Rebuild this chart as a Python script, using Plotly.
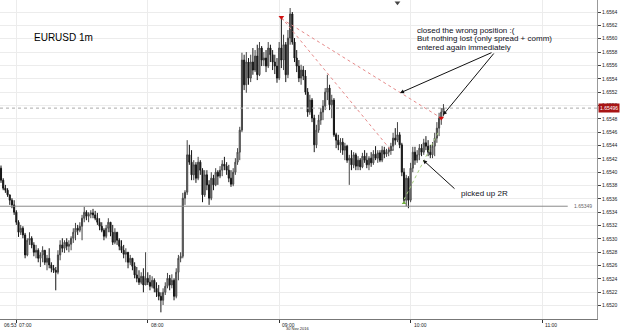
import plotly.graph_objects as go
import pandas as pd

# ---------------- data (EURUSD 1m, 30 Nov 2016) ----------------
start_time = "2016-11-30 06:53"

open_ = [1.65406,1.65388,1.65376,1.65373,1.65366,1.65358,1.65351,1.65340,1.65325,1.65310,
1.65316,1.65306,1.65276,1.65298,1.65301,1.65291,1.65280,1.65283,1.65271,1.65276,
1.65283,1.65265,1.65271,1.65261,1.65256,1.65253,1.65250,1.65276,1.65291,1.65286,
1.65295,1.65289,1.65292,1.65301,1.65310,1.65316,1.65313,1.65319,1.65331,1.65340,
1.65334,1.65337,1.65339,1.65336,1.65331,1.65325,1.65319,1.65313,1.65304,1.65316,
1.65325,1.65310,1.65295,1.65310,1.65298,1.65289,1.65283,1.65277,1.65280,1.65265,
1.65271,1.65259,1.65246,1.65241,1.65235,1.65244,1.65231,1.65241,1.65235,1.65229,
1.65238,1.65226,1.65220,1.65214,1.65208,1.65220,1.65229,1.65241,1.65231,1.65238,
1.65214,1.65250,1.65271,1.65274,1.65361,1.65370,1.65426,1.65415,1.65396,1.65411,
1.65391,1.65415,1.65403,1.65366,1.65396,1.65381,1.65361,1.65391,1.65381,1.65400,
1.65394,1.65403,1.65412,1.65409,1.65403,1.65391,1.65382,1.65400,1.65415,1.65430,
1.65463,1.65568,1.65531,1.65565,1.65541,1.65565,1.65553,1.65574,1.65546,1.65586,
1.65568,1.65571,1.65559,1.65586,1.65576,1.65565,1.65559,1.65541,1.65586,1.65568,
1.65591,1.65546,1.65601,1.65637,1.65595,1.65571,1.65559,1.65541,1.65553,1.65544,
1.65520,1.65490,1.65508,1.65481,1.65441,1.65463,1.65478,1.65490,1.65499,1.65520,
1.65526,1.65501,1.65508,1.65456,1.65448,1.65441,1.65445,1.65433,1.65439,1.65418,
1.65421,1.65411,1.65426,1.65409,1.65418,1.65408,1.65424,1.65418,1.65411,1.65421,
1.65414,1.65427,1.65421,1.65429,1.65418,1.65433,1.65427,1.65430,1.65433,1.65439,
1.65451,1.65448,1.65456,1.65441,1.65400,1.65358,1.65391,1.65358,1.65406,1.65430,
1.65418,1.65426,1.65436,1.65430,1.65444,1.65439,1.65430,1.65426,1.65439,1.65451,
1.65466,1.65481,1.65490]

high = [1.65410,1.65391,1.65381,1.65376,1.65366,1.65361,1.65358,1.65343,1.65328,1.65321,
1.65319,1.65309,1.65301,1.65310,1.65304,1.65295,1.65291,1.65286,1.65280,1.65289,
1.65283,1.65276,1.65286,1.65265,1.65261,1.65258,1.65283,1.65298,1.65301,1.65298,
1.65301,1.65298,1.65304,1.65316,1.65324,1.65321,1.65325,1.65336,1.65348,1.65343,
1.65340,1.65343,1.65345,1.65342,1.65339,1.65331,1.65325,1.65316,1.65321,1.65331,
1.65325,1.65321,1.65316,1.65310,1.65301,1.65298,1.65291,1.65286,1.65280,1.65276,
1.65271,1.65265,1.65258,1.65253,1.65250,1.65256,1.65280,1.65250,1.65246,1.65244,
1.65241,1.65235,1.65231,1.65220,1.65226,1.65235,1.65249,1.65246,1.65247,1.65241,
1.65256,1.65276,1.65280,1.65369,1.65373,1.65448,1.65441,1.65433,1.65418,1.65415,
1.65423,1.65418,1.65406,1.65403,1.65403,1.65388,1.65400,1.65396,1.65406,1.65403,
1.65409,1.65418,1.65423,1.65415,1.65411,1.65403,1.65406,1.65421,1.65436,1.65468,
1.65579,1.65576,1.65580,1.65571,1.65576,1.65586,1.65583,1.65591,1.65595,1.65589,
1.65580,1.65583,1.65595,1.65591,1.65583,1.65576,1.65571,1.65595,1.65633,1.65606,
1.65595,1.65613,1.65646,1.65640,1.65601,1.65583,1.65568,1.65561,1.65559,1.65553,
1.65526,1.65516,1.65511,1.65486,1.65471,1.65486,1.65496,1.65508,1.65526,1.65546,
1.65531,1.65516,1.65511,1.65459,1.65456,1.65451,1.65451,1.65444,1.65441,1.65426,
1.65433,1.65430,1.65429,1.65424,1.65421,1.65429,1.65433,1.65429,1.65424,1.65430,
1.65433,1.65439,1.65433,1.65433,1.65439,1.65438,1.65435,1.65438,1.65444,1.65459,
1.65466,1.65475,1.65460,1.65444,1.65406,1.65396,1.65394,1.65414,1.65438,1.65438,
1.65433,1.65442,1.65442,1.65450,1.65454,1.65448,1.65441,1.65445,1.65459,1.65475,
1.65489,1.65496,1.65502]

low = [1.65384,1.65373,1.65369,1.65363,1.65351,1.65346,1.65336,1.65321,1.65303,1.65306,
1.65301,1.65271,1.65274,1.65291,1.65286,1.65274,1.65271,1.65265,1.65258,1.65265,
1.65261,1.65253,1.65256,1.65250,1.65249,1.65223,1.65247,1.65268,1.65280,1.65279,
1.65283,1.65280,1.65283,1.65294,1.65298,1.65306,1.65310,1.65298,1.65325,1.65328,
1.65325,1.65331,1.65331,1.65328,1.65321,1.65313,1.65310,1.65298,1.65301,1.65310,
1.65304,1.65291,1.65292,1.65291,1.65283,1.65279,1.65271,1.65265,1.65256,1.65261,
1.65253,1.65241,1.65235,1.65231,1.65232,1.65220,1.65231,1.65231,1.65223,1.65226,
1.65220,1.65213,1.65208,1.65190,1.65201,1.65216,1.65226,1.65223,1.65226,1.65208,
1.65211,1.65238,1.65265,1.65271,1.65351,1.65366,1.65411,1.65388,1.65388,1.65384,
1.65388,1.65396,1.65355,1.65363,1.65373,1.65351,1.65358,1.65373,1.65379,1.65381,
1.65391,1.65394,1.65403,1.65396,1.65385,1.65378,1.65379,1.65396,1.65411,1.65418,
1.65460,1.65523,1.65519,1.65531,1.65535,1.65546,1.65550,1.65538,1.65544,1.65559,
1.65559,1.65550,1.65556,1.65565,1.65553,1.65547,1.65534,1.65538,1.65556,1.65553,
1.65535,1.65541,1.65591,1.65591,1.65565,1.65550,1.65535,1.65531,1.65538,1.65516,
1.65483,1.65486,1.65475,1.65430,1.65436,1.65459,1.65471,1.65478,1.65493,1.65508,
1.65493,1.65481,1.65453,1.65436,1.65433,1.65429,1.65426,1.65418,1.65414,1.65381,
1.65403,1.65406,1.65403,1.65403,1.65403,1.65406,1.65414,1.65406,1.65403,1.65408,
1.65411,1.65418,1.65414,1.65415,1.65415,1.65421,1.65423,1.65424,1.65426,1.65433,
1.65441,1.65445,1.65436,1.65394,1.65354,1.65349,1.65346,1.65355,1.65400,1.65411,
1.65414,1.65418,1.65424,1.65426,1.65433,1.65424,1.65421,1.65421,1.65424,1.65444,
1.65454,1.65471,1.65484]

close = [1.65388,1.65376,1.65373,1.65366,1.65358,1.65351,1.65340,1.65325,1.65310,1.65316,
1.65306,1.65276,1.65298,1.65301,1.65291,1.65280,1.65283,1.65271,1.65276,1.65283,
1.65265,1.65271,1.65261,1.65256,1.65253,1.65250,1.65276,1.65291,1.65286,1.65295,
1.65289,1.65292,1.65301,1.65310,1.65316,1.65313,1.65319,1.65331,1.65340,1.65334,
1.65337,1.65339,1.65336,1.65331,1.65325,1.65319,1.65313,1.65304,1.65316,1.65325,
1.65310,1.65295,1.65310,1.65298,1.65289,1.65283,1.65277,1.65280,1.65265,1.65271,
1.65259,1.65246,1.65241,1.65235,1.65244,1.65231,1.65241,1.65235,1.65229,1.65238,
1.65226,1.65220,1.65214,1.65208,1.65220,1.65229,1.65241,1.65231,1.65238,1.65214,
1.65250,1.65271,1.65274,1.65361,1.65370,1.65426,1.65415,1.65396,1.65411,1.65391,
1.65415,1.65403,1.65366,1.65396,1.65381,1.65361,1.65391,1.65381,1.65400,1.65394,
1.65403,1.65412,1.65409,1.65403,1.65391,1.65382,1.65400,1.65415,1.65430,1.65463,
1.65568,1.65531,1.65565,1.65541,1.65565,1.65553,1.65574,1.65546,1.65586,1.65568,
1.65571,1.65559,1.65586,1.65576,1.65565,1.65559,1.65541,1.65586,1.65568,1.65591,
1.65546,1.65601,1.65637,1.65595,1.65571,1.65559,1.65541,1.65553,1.65544,1.65520,
1.65490,1.65508,1.65481,1.65441,1.65463,1.65478,1.65490,1.65499,1.65520,1.65526,
1.65501,1.65508,1.65456,1.65448,1.65441,1.65445,1.65433,1.65439,1.65418,1.65421,
1.65411,1.65426,1.65409,1.65418,1.65408,1.65424,1.65418,1.65411,1.65421,1.65414,
1.65427,1.65421,1.65429,1.65418,1.65433,1.65427,1.65430,1.65433,1.65439,1.65451,
1.65448,1.65456,1.65441,1.65400,1.65358,1.65391,1.65358,1.65406,1.65430,1.65418,
1.65426,1.65436,1.65430,1.65444,1.65439,1.65430,1.65426,1.65439,1.65451,1.65466,
1.65481,1.65490,1.65496]

# price levels
bid_price = 1.65496
level_price = 1.65349
price_ticks = [1.6520, 1.6522, 1.6524, 1.6526, 1.6528, 1.6530, 1.6532, 1.6534, 1.6536,
               1.6538, 1.6540, 1.6542, 1.6544, 1.6546, 1.6548, 1.6550, 1.6552, 1.6554,
               1.6556, 1.6558, 1.6560, 1.6562, 1.6564]

# trades (bar index, price)
trade_open_idx = [128, 128]
trade_open_px = [1.65632, 1.65630]
trade_close_idx = [178, 201]
trade_close_px = [1.65433, 1.65481]
target_idx = [184, 200]
target_px = [1.65359, 1.65462]

hour_labels = ["07:00", "08:00", "09:00", "10:00", "11:00"]
hour_times = ["2016-11-30 07:00", "2016-11-30 08:00", "2016-11-30 09:00",
              "2016-11-30 10:00", "2016-11-30 11:00"]
first_label = "06:53"
date_label = "30 Nov 2016"

# ---------------- figure ----------------
t0 = pd.Timestamp(start_time)
times = pd.date_range(t0, periods=len(close), freq="min")
x_range = [t0 - pd.Timedelta(seconds=27.5), t0 + pd.Timedelta(minutes=272.1)]

fig = go.Figure()

fig.add_trace(go.Candlestick(
    x=times, open=open_, high=high, low=low, close=close,
    increasing=dict(line=dict(color="#444444", width=1), fillcolor="#b0b0b0"),
    decreasing=dict(line=dict(color="#151515", width=1), fillcolor="#151515"),
    whiskerwidth=0, showlegend=False, hoverinfo="skip"))

# trade lines
for i in range(2):
    fig.add_trace(go.Scatter(
        x=[times[trade_open_idx[i]], times[trade_close_idx[i]]],
        y=[trade_open_px[i], trade_close_px[i]],
        mode="lines", line=dict(color="#e68a8a", width=1, dash="dot"),
        showlegend=False, hoverinfo="skip"))
fig.add_trace(go.Scatter(
    x=[times[target_idx[0]], times[target_idx[1]]], y=target_px,
    mode="lines", line=dict(color="#a8d080", width=1, dash="dot"),
    showlegend=False, hoverinfo="skip"))
# trade markers
fig.add_trace(go.Scatter(
    x=[times[trade_open_idx[0]], times[trade_close_idx[1]]],
    y=[trade_open_px[0], trade_close_px[1]],
    mode="markers", marker=dict(symbol="triangle-down", size=5, color="#d01010"),
    showlegend=False, hoverinfo="skip"))
fig.add_trace(go.Scatter(
    x=[times[trade_close_idx[0]]], y=[trade_close_px[0]],
    mode="markers", marker=dict(symbol="line-ew", size=4, line=dict(color="#444", width=1)),
    showlegend=False, hoverinfo="skip"))
fig.add_trace(go.Scatter(
    x=[times[target_idx[0]]], y=[target_px[0] - 0.00005],
    mode="markers", marker=dict(symbol="triangle-up", size=4, color="#6fae3a"),
    showlegend=False, hoverinfo="skip"))

# levels
fig.add_shape(type="line", xref="paper", x0=0, x1=1, yref="y", y0=bid_price, y1=bid_price,
              line=dict(color="#aaaaaa", width=1, dash="dot"))
fig.add_shape(type="line", xref="paper", x0=0, x1=0.951, yref="y", y0=level_price, y1=level_price,
              line=dict(color="#8a8a8a", width=1))

ann = []
ann.append(dict(xref="paper", x=0.958, yref="y", y=level_price, text=f"{level_price:.5f}",
                showarrow=False, xanchor="left", yanchor="middle",
                font=dict(size=5, color="#666", family="Liberation Sans")))
ann.append(dict(xref="paper", x=1.0, yref="y", y=bid_price, text=f"{bid_price:.5f}",
                showarrow=False, xanchor="left", yanchor="middle", bgcolor="#a81414",
                borderpad=1, xshift=1,
                font=dict(size=5, color="#ffffff", family="Liberation Sans")))

# time labels
ann.append(dict(xref="paper", x=0.003, yref="paper", y=0, yshift=-0.5, text=first_label,
                showarrow=False, xanchor="left", yanchor="top",
                font=dict(size=5, color="#222", family="Liberation Sans")))
for lab, tm in zip(hour_labels, hour_times):
    ann.append(dict(xref="x", x=tm, yref="paper", y=0, yshift=-0.5, xshift=1, text=lab,
                    showarrow=False, xanchor="left", yanchor="top",
                    font=dict(size=5, color="#222", family="Liberation Sans")))
ann.append(dict(xref="x", x=hour_times[2], yref="paper", y=0, yshift=-5, xshift=5,
                text=date_label, showarrow=False, xanchor="left", yanchor="top",
                font=dict(size=4, color="#222", family="Liberation Sans")))

# texts
txt_font = dict(size=8, color="#111122", family="Liberation Sans, Arial")
ann.append(dict(xref="paper", x=32/597, yref="paper", y=1-38/319, text="EURUSD 1m",
                showarrow=False, xanchor="left", yanchor="middle",
                font=dict(size=10, color="#000", family="Liberation Sans, Arial")))
for k, (line_txt, ypx) in enumerate([("closed the wrong position :(", 30),
                                      ("But nothing lost (only spread + comm)", 38.5),
                                      ("entered again immediately", 47)]):
    ann.append(dict(xref="paper", x=415/597, yref="paper", y=1-ypx/319, text=line_txt,
                    showarrow=False, xanchor="left", yanchor="middle", font=txt_font))
ann.append(dict(xref="paper", x=459/597, yref="paper", y=1-193/319, text="picked up 2R",
                showarrow=False, xanchor="left", yanchor="middle", font=txt_font))

# arrows
for hx, hy, ax, ay in [(400, 93, 93, -41), (443, 115, 52, -63), (423, 160, 33, 30)]:
    ann.append(dict(xref="paper", x=hx/597, yref="paper", y=1-hy/319, text="",
                    showarrow=True, ax=ax, ay=ay, arrowhead=2, arrowsize=0.8,
                    arrowwidth=1, arrowcolor="#111", standoff=0))

fig.update_layout(
    width=625, height=330,
    margin=dict(l=0, r=28, t=0, b=11, pad=0),
    paper_bgcolor="white", plot_bgcolor="white",
    showlegend=False,
    annotations=ann,
    xaxis=dict(range=x_range, type="date", rangeslider=dict(visible=False),
               tickvals=hour_times, showticklabels=False, ticks="outside", ticklen=3,
               tickcolor="#333", showgrid=True, gridcolor="#ececec", gridwidth=1,
               showline=True, linecolor="#777", linewidth=1, zeroline=False,
               fixedrange=True),
    yaxis=dict(range=[1.65180, 1.65658], side="right", tickvals=price_ticks,
               ticktext=[f"{v:.4f}" for v in price_ticks],
               ticks="outside", ticklen=3, tickcolor="#444",
               tickfont=dict(size=5, color="#222", family="Liberation Sans"),
               showgrid=True, gridcolor="#ececec", gridwidth=1,
               showline=True, linecolor="#999", linewidth=1, zeroline=False,
               fixedrange=True),
)

# small marker at top of chart
fig.add_trace(go.Scatter(x=[times[181]], y=[1.65654], mode="markers",
                         marker=dict(symbol="triangle-down", size=5, color="#444"),
                         cliponaxis=False, showlegend=False, hoverinfo="skip"))

fig.write_html("out.html")
